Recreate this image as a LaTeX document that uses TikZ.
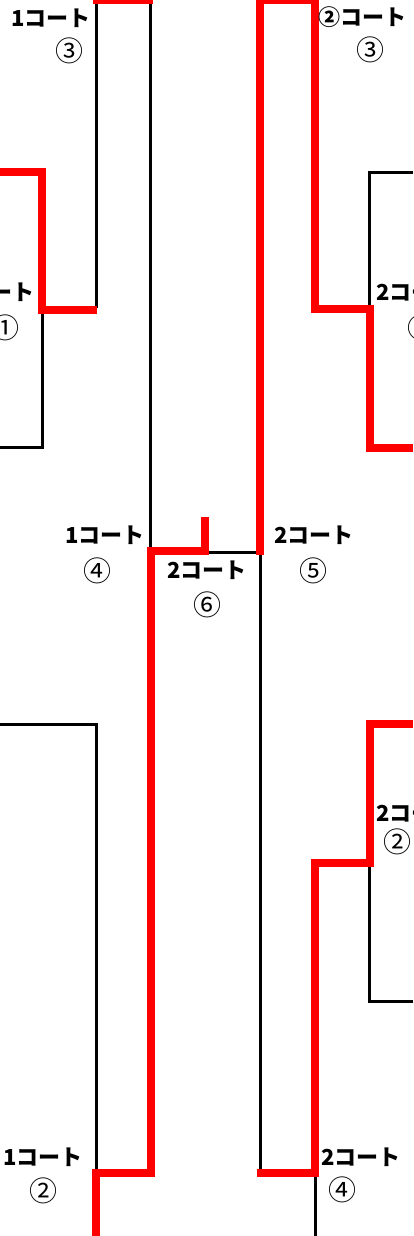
\documentclass[tikz,border=0pt]{standalone}
\usepackage{fontspec}
\newfontfamily\jpfont{Noto Sans CJK JP}

\begin{document}
\begin{tikzpicture}[x=1pt,y=-1pt,
    wire/.style={line width=3pt,line join=miter},
    winner/.style={draw=red,line width=7.5pt,line join=miter},
    court/.style={inner sep=0pt,font=\jpfont\bfseries\fontsize{22}{22}\selectfont},
    num/.style={inner sep=0pt,font=\jpfont\fontsize{28}{28}\selectfont}]
        \useasboundingbox (0,0) rectangle (413,1236);
        % bracket lines
        \draw[wire] (96,0) -- (96,308);
        \draw[wire] (150,0) -- (150,551);
        \draw[wire] (0,447) -- (42,447) -- (42,310);
        \draw[wire] (413,172) -- (369,172) -- (369,308);
        \draw[wire] (205,552) -- (260,552) -- (260,1173);
        \draw[wire] (0,724) -- (96,724) -- (96,1173);
        \draw[wire] (369,863) -- (369,1001) -- (413,1001);
        \draw[wire] (315,1173) -- (315,1236);
        % winners
        \draw[winner] (93,0) -- (153,0);
        \draw[winner] (0,172) -- (42,172) -- (42,310) -- (97,310);
        \draw[winner] (260,555) -- (260,0) -- (315,0) -- (315,309)
                      -- (370,309) -- (370,448) -- (413,448);
        \draw[winner] (205,517) -- (205,551) -- (151,551) -- (151,1173)
                      -- (96,1173) -- (96,1236);
        \draw[winner] (257,1173) -- (315,1173) -- (315,863) -- (370,863)
                      -- (370,724) -- (413,724);
        % courts
        \node[court] (c1a) at (51,18) {1コート};
        \node[num] (n1a) at (69,51) {③};
        \node[court] (c2a) at (362,17) {②コート};
        \node[num] (n2a) at (370,50) {③};
        \node[court] (c1b) at (-5,292) {1コート};
        \node[num] (n1b) at (5,328) {①};
        \node[court] (c2b) at (416,292) {2コート};
        \node[num] (n2b) at (421,328) {①};
        \node[court] (c1c) at (105,535) {1コート};
        \node[num] (n1c) at (97,571) {④};
        \node[court] (c2c) at (207,570) {2コート};
        \node[num] (n2c) at (207,605) {⑥};
        \node[court] (c2d) at (314,535) {2コート};
        \node[num] (n2d) at (313,571) {⑤};
        \node[court] (c2e) at (416,813) {2コート};
        \node[num] (n2e) at (397,842) {②};
        \node[court] (c1f) at (43,1157) {1コート};
        \node[num] (n1f) at (43,1191) {②};
        \node[court] (c2f) at (361,1157) {2コート};
        \node[num] (n2f) at (342,1190) {④};
      \end{tikzpicture}
\end{document}
